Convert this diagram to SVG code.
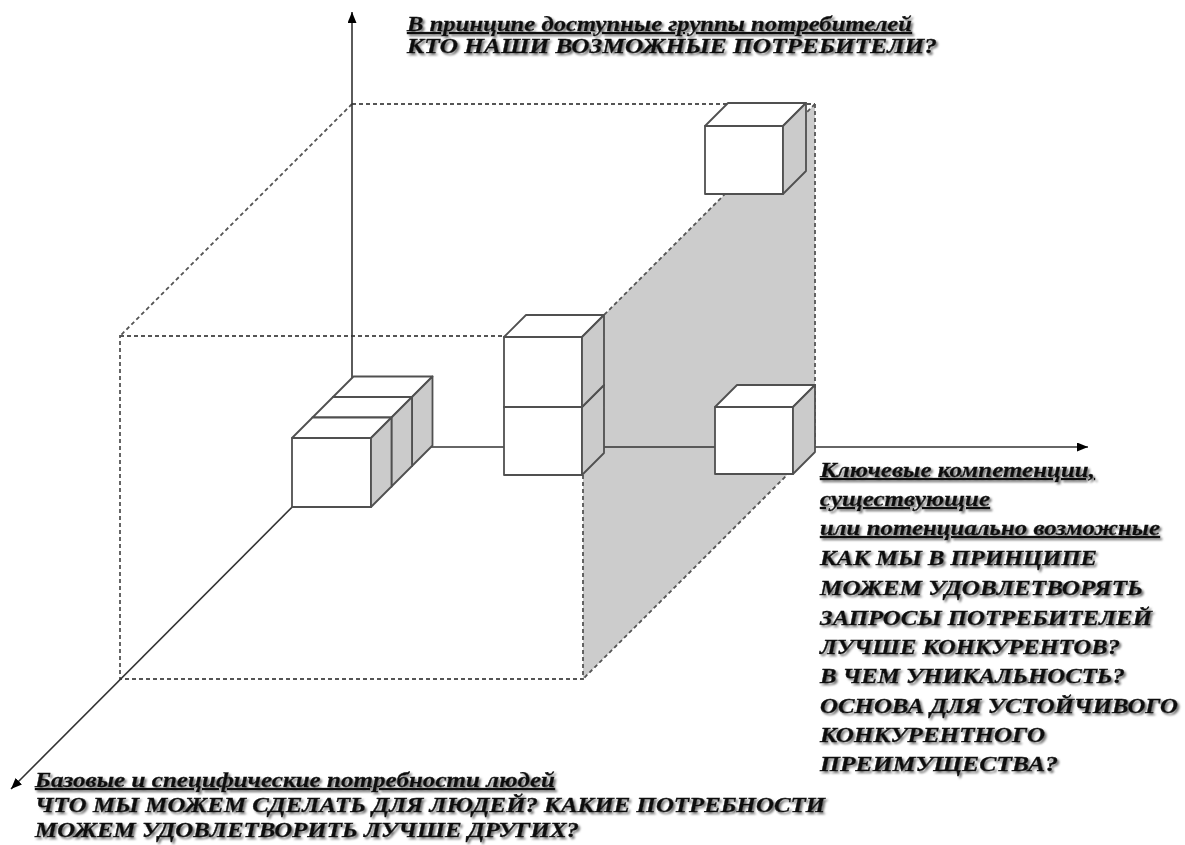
<svg xmlns="http://www.w3.org/2000/svg" width="1185" height="845" viewBox="0 0 1185 845">
<style>
.axis{stroke:#333;stroke-width:1.6;fill:none}
.dash{stroke:#555;stroke-width:1.8;stroke-dasharray:4 3;fill:none}
.plane{fill:#cccccc;stroke:none}
.fw{fill:#ffffff;stroke:#505050;stroke-width:1.8;stroke-linejoin:round}
.fs{fill:#cbcbcb;stroke:#505050;stroke-width:1.8;stroke-linejoin:round}
.t{font-family:"Liberation Serif","Times New Roman",serif;font-weight:bold;font-style:italic;font-size:20px;fill:#111;stroke:#111;stroke-width:0.35}
.u{text-decoration:underline}
</style>
<defs>
<marker id="ah" markerUnits="userSpaceOnUse" markerWidth="12" markerHeight="10" refX="11" refY="4.5" orient="auto">
<path d="M0,0 L11,4.5 L0,9 z" fill="#000"/>
</marker>
<filter id="sh" x="-5%" y="-20%" width="110%" height="150%">
<feGaussianBlur in="SourceAlpha" stdDeviation="0.8"/>
<feOffset dx="1.5" dy="1.5" result="o"/>
<feFlood flood-color="#777"/>
<feComposite in2="o" operator="in"/>
<feMerge><feMergeNode/><feMergeNode in="SourceGraphic"/></feMerge>
</filter>
</defs>
<rect width="1185" height="845" fill="#fff"/>

<g id="box">
<polygon class="plane" points="815,104 583,336 583,679 815,447"/>
<line class="dash" x1="352" y1="104" x2="815" y2="104"/>
<line class="dash" x1="815" y1="104" x2="815" y2="447"/>
<line class="dash" x1="352" y1="104" x2="120" y2="336"/>
<line class="dash" x1="815" y1="104" x2="583" y2="336"/>
<line class="dash" x1="815" y1="447" x2="583" y2="679"/>
<rect class="dash" x="120" y="336" width="463" height="343"/>
</g>

<g id="connectors">
<line class="axis" x1="352" y1="447" x2="352" y2="12" marker-end="url(#ah)"/>
<line class="axis" x1="352" y1="447" x2="1088" y2="447" marker-end="url(#ah)"/>
<line class="axis" x1="352" y1="447" x2="11" y2="789" marker-end="url(#ah)"/>
</g>

<g id="cube-left-back">
<rect class="fw" x="333" y="397" width="79" height="69"/>
<polygon class="fw" points="333,397 353.5,376.5 432.5,376.5 412,397"/>
<polygon class="fs" points="412,397 432.5,376.5 432.5,445.5 412,466"/>
</g>
<g id="cube-left-middle">
<rect class="fw" x="312.5" y="417.5" width="79" height="69"/>
<polygon class="fw" points="312.5,417.5 333,397 412,397 391.5,417.5"/>
<polygon class="fs" points="391.5,417.5 412,397 412,466 391.5,486.5"/>
</g>
<g id="cube-left-front">
<rect class="fw" x="292" y="438" width="79" height="69"/>
<polygon class="fw" points="292,438 312.5,417.5 391.5,417.5 371,438"/>
<polygon class="fs" points="371,438 391.5,417.5 391.5,486.5 371,507"/>
</g>

<g id="cube-mid-lower">
<rect class="fw" x="504" y="407" width="78" height="68"/>
<polygon class="fw" points="504,407 526,385 604,385 582,407"/>
<polygon class="fs" points="582,407 604,385 604,453 582,475"/>
</g>
<g id="cube-mid-upper">
<rect class="fw" x="504" y="337" width="78" height="70"/>
<polygon class="fw" points="504,337 526,315 604,315 582,337"/>
<polygon class="fs" points="582,337 604,315 604,385 582,407"/>
</g>

<g id="cube-right">
<rect class="fw" x="715" y="407" width="78" height="67"/>
<polygon class="fw" points="715,407 737,385 815,385 793,407"/>
<polygon class="fs" points="793,407 815,385 815,452 793,474"/>
</g>

<g id="cube-top">
<rect class="fw" x="705" y="126" width="78" height="68"/>
<polygon class="fw" points="705,126 728,103 806,103 783,126"/>
<polygon class="fs" points="783,126 806,103 806,171 783,194"/>
</g>

<g id="label-top" filter="url(#sh)">
<text class="t u" x="407" y="31" textLength="505" lengthAdjust="spacingAndGlyphs">В принципе доступные группы потребителей</text>
<text class="t" x="407" y="53" textLength="530" lengthAdjust="spacingAndGlyphs">КТО НАШИ ВОЗМОЖНЫЕ ПОТРЕБИТЕЛИ?</text>
</g>

<g id="label-right" filter="url(#sh)">
<text class="t u" x="820" y="477" textLength="275" lengthAdjust="spacingAndGlyphs">Ключевые компетенции,</text>
<text class="t u" x="820" y="506" textLength="170" lengthAdjust="spacingAndGlyphs">существующие</text>
<text class="t u" x="820" y="535" textLength="340" lengthAdjust="spacingAndGlyphs">или потенциально возможные</text>
<text class="t" x="820" y="565" textLength="277" lengthAdjust="spacingAndGlyphs">КАК МЫ В ПРИНЦИПЕ</text>
<text class="t" x="820" y="595" textLength="323" lengthAdjust="spacingAndGlyphs">МОЖЕМ УДОВЛЕТВОРЯТЬ</text>
<text class="t" x="820" y="625" textLength="332" lengthAdjust="spacingAndGlyphs">ЗАПРОСЫ ПОТРЕБИТЕЛЕЙ</text>
<text class="t" x="820" y="654" textLength="300" lengthAdjust="spacingAndGlyphs">ЛУЧШЕ КОНКУРЕНТОВ?</text>
<text class="t" x="820" y="683" textLength="305" lengthAdjust="spacingAndGlyphs">В ЧЕМ УНИКАЛЬНОСТЬ?</text>
<text class="t" x="820" y="713" textLength="358" lengthAdjust="spacingAndGlyphs">ОСНОВА ДЛЯ УСТОЙЧИВОГО</text>
<text class="t" x="820" y="742" textLength="225" lengthAdjust="spacingAndGlyphs">КОНКУРЕНТНОГО</text>
<text class="t" x="820" y="771" textLength="238" lengthAdjust="spacingAndGlyphs">ПРЕИМУЩЕСТВА?</text>
</g>

<g id="label-bottom" filter="url(#sh)">
<text class="t u" x="35" y="787" textLength="520" lengthAdjust="spacingAndGlyphs">Базовые и специфические потребности людей</text>
<text class="t" x="35" y="812" textLength="790" lengthAdjust="spacingAndGlyphs">ЧТО МЫ МОЖЕМ СДЕЛАТЬ ДЛЯ ЛЮДЕЙ? КАКИЕ ПОТРЕБНОСТИ</text>
<text class="t" x="35" y="837" textLength="544" lengthAdjust="spacingAndGlyphs">МОЖЕМ УДОВЛЕТВОРИТЬ ЛУЧШЕ ДРУГИХ?</text>
</g>
</svg>
